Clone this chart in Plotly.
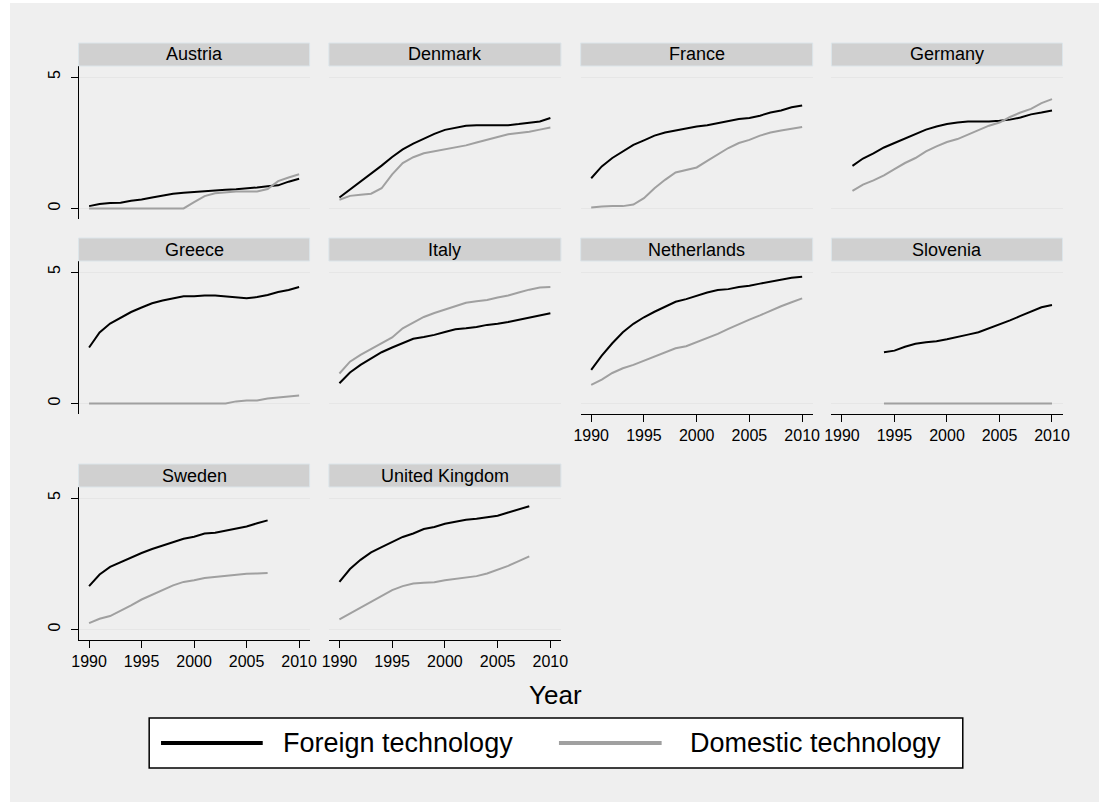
import plotly.graph_objects as go

# ---------------- data ----------------
countries = ["Austria", "Denmark", "France", "Germany", "Greece", "Italy",
             "Netherlands", "Slovenia", "Sweden", "United Kingdom"]
first_year = [1990, 1990, 1990, 1991, 1990, 1990, 1990, 1994, 1990, 1990]

austria_foreign = [0.09, 0.17, 0.21, 0.22, 0.29, 0.34, 0.42, 0.49, 0.56, 0.60, 0.63,
                   0.67, 0.70, 0.71, 0.73, 0.76, 0.80, 0.85, 0.88, 1.02, 1.13]
austria_domestic = [0, 0, 0, 0, 0, 0, 0, 0, 0, 0, 0.24,
                    0.47, 0.58, 0.62, 0.65, 0.65, 0.65, 0.74, 1.04, 1.18, 1.30]
denmark_foreign = [0.42, 0.72, 1.02, 1.32, 1.63, 1.96, 2.25, 2.47, 2.66, 2.84, 2.99,
                   3.08, 3.15, 3.17, 3.17, 3.17, 3.17, 3.21, 3.25, 3.31, 3.44]
denmark_domestic = [0.33, 0.48, 0.52, 0.56, 0.77, 1.30, 1.73, 1.95, 2.10, 2.18, 2.26,
                    2.33, 2.40, 2.51, 2.61, 2.70, 2.82, 2.87, 2.92, 3.00, 3.08]
france_foreign = [1.15, 1.60, 1.92, 2.17, 2.42, 2.59, 2.77, 2.89, 2.97, 3.05, 3.12,
                  3.17, 3.25, 3.34, 3.40, 3.44, 3.53, 3.65, 3.73, 3.85, 3.92]
france_domestic = [0.04, 0.08, 0.09, 0.09, 0.15, 0.39, 0.77, 1.09, 1.37, 1.47, 1.56,
                   1.81, 2.04, 2.30, 2.49, 2.61, 2.77, 2.89, 2.97, 3.03, 3.10]
germany_foreign = [1.62, 1.90, 2.10, 2.32, 2.49, 2.66, 2.84, 3.00, 3.12, 3.21,
                   3.27, 3.31, 3.31, 3.31, 3.34, 3.38, 3.46, 3.58, 3.65, 3.73]
germany_domestic = [0.67, 0.91, 1.07, 1.26, 1.50, 1.73, 1.92, 2.17, 2.36, 2.53,
                    2.64, 2.81, 3.00, 3.15, 3.27, 3.48, 3.65, 3.79, 4.01, 4.16]
greece_foreign = [2.13, 2.70, 3.04, 3.27, 3.48, 3.65, 3.81, 3.92, 4.00, 4.08, 4.08,
                  4.11, 4.11, 4.08, 4.04, 4.00, 4.05, 4.13, 4.24, 4.32, 4.43]
greece_domestic = [0, 0, 0, 0, 0, 0, 0, 0, 0, 0, 0,
                   0, 0, 0, 0.08, 0.11, 0.11, 0.19, 0.23, 0.27, 0.30]
italy_foreign = [0.77, 1.18, 1.47, 1.72, 1.95, 2.13, 2.29, 2.46, 2.53, 2.61, 2.72,
                 2.82, 2.86, 2.91, 2.99, 3.03, 3.10, 3.18, 3.25, 3.35, 3.43]
italy_domestic = [1.14, 1.59, 1.85, 2.06, 2.28, 2.51, 2.86, 3.08, 3.29, 3.44, 3.58,
                  3.71, 3.83, 3.89, 3.94, 4.03, 4.11, 4.22, 4.33, 4.41, 4.43]
netherlands_foreign = [1.28, 1.82, 2.29, 2.71, 3.03, 3.28, 3.49, 3.68, 3.87, 3.97, 4.10,
                       4.22, 4.32, 4.35, 4.43, 4.48, 4.56, 4.63, 4.71, 4.78, 4.82]
netherlands_domestic = [0.71, 0.91, 1.16, 1.34, 1.47, 1.63, 1.78, 1.95, 2.10, 2.18, 2.33,
                        2.48, 2.65, 2.84, 3.03, 3.19, 3.35, 3.53, 3.70, 3.85, 4.00]
slovenia_foreign = [1.95, 2.01, 2.16, 2.27, 2.33, 2.37, 2.44, 2.52, 2.62,
                    2.71, 2.85, 2.99, 3.16, 3.33, 3.49, 3.66, 3.75]
slovenia_domestic = [0, 0, 0, 0, 0, 0, 0, 0, 0, 0, 0, 0, 0, 0, 0, 0, 0]
sweden_foreign = [1.65, 2.09, 2.38, 2.56, 2.76, 2.91, 3.06, 3.19, 3.35, 3.45,
                  3.53, 3.65, 3.68, 3.76, 3.84, 3.92, 4.04, 4.15]
sweden_domestic = [0.24, 0.41, 0.51, 0.70, 0.92, 1.14, 1.33, 1.52, 1.68, 1.81,
                   1.87, 1.96, 2.00, 2.03, 2.09, 2.12, 2.13, 2.15]
uk_foreign = [1.81, 2.30, 2.65, 2.93, 3.13, 3.33, 3.52, 3.65, 3.82, 3.90,
              4.02, 4.10, 4.17, 4.21, 4.28, 4.33, 4.45, 4.57, 4.69]
uk_domestic = [0.38, 0.60, 0.82, 1.05, 1.25, 1.50, 1.65, 1.75, 1.78, 1.80,
               1.87, 1.92, 1.98, 2.03, 2.13, 2.27, 2.42, 2.60, 2.78]

foreign_series = [austria_foreign, denmark_foreign, france_foreign, germany_foreign,
                  greece_foreign, italy_foreign, netherlands_foreign, slovenia_foreign,
                  sweden_foreign, uk_foreign]
domestic_series = [austria_domestic, denmark_domestic, france_domestic, germany_domestic,
                   greece_domestic, italy_domestic, netherlands_domestic, slovenia_domestic,
                   sweden_domestic, uk_domestic]

x_ticks = [1990, 1995, 2000, 2005, 2010]
y_ticks = [0, 5]
series_names = ["Foreign technology", "Domestic technology"]

# ---------------- layout ----------------
W, H = 1109, 805
FONT = "Liberation Sans, Arial, Helvetica, sans-serif"
BLACK = "#000000"
GREY = "#a0a0a0"
BG = "#efefef"
STRIP = "#d0d0d0"
GRID = "#e6e6e6"

col_px = [(72.5, 306.5), (326, 561), (581, 816), (835, 1069)]
row_px = [(66, 219), (261, 414), (487, 640)]
STRIP_H = 23

fig = go.Figure()
layout = dict(
    width=W, height=H, margin=dict(l=0, r=0, t=0, b=0),
    paper_bgcolor="white", plot_bgcolor="white",
    showlegend=False, font=dict(family=FONT, color="black"),
)
shapes = []
annotations = []

# outer grey graph region
shapes.append(dict(type="rect", xref="paper", yref="paper", layer="below",
                   x0=3 / W, x1=1 - 3 / W, y0=3 / H, y1=1 - 3 / H,
                   fillcolor=BG, line=dict(width=0)))

bottom_axis = {"Netherlands", "Slovenia", "Sweden", "United Kingdom"}

for k, name in enumerate(countries):
    r, c = divmod(k, 4)
    idx = k + 1
    xa = "x" if idx == 1 else f"x{idx}"
    ya = "y" if idx == 1 else f"y{idx}"
    xs, xe = col_px[c]
    ys, ye = row_px[r]
    years = list(range(first_year[k], first_year[k] + len(foreign_series[k])))

    fig.add_trace(go.Scatter(x=years, y=foreign_series[k], mode="lines",
                             name=series_names[0], xaxis=xa, yaxis=ya,
                             line=dict(color=BLACK, width=2)))
    fig.add_trace(go.Scatter(x=years, y=domestic_series[k], mode="lines",
                             name=series_names[1], xaxis=xa, yaxis=ya,
                             line=dict(color=GREY, width=2)))

    has_x = name in bottom_axis
    has_y = c == 0
    layout[f"xaxis{'' if idx == 1 else idx}"] = dict(
        domain=[xs / W, xe / W], range=[1989, 2011], anchor=ya,
        tickvals=x_ticks, showticklabels=has_x, ticks="outside" if has_x else "",
        ticklen=7, tickcolor="black", showline=has_x, linecolor="black", linewidth=1,
        showgrid=False, zeroline=False, fixedrange=True,
        tickfont=dict(size=16, family=FONT, color="black"))
    layout[f"yaxis{'' if idx == 1 else idx}"] = dict(
        domain=[1 - ye / H, 1 - ys / H], range=[-0.4, 5.42], anchor=xa,
        tickvals=y_ticks, showticklabels=has_y, ticks="outside" if has_y else "",
        ticklen=7, tickcolor="black", tickangle=-90, ticklabelstandoff=4,
        showline=has_y, linecolor="black", linewidth=1,
        showgrid=True, gridcolor=GRID, gridwidth=1, zeroline=False, fixedrange=True,
        tickfont=dict(size=16, family=FONT, color="black"))

    # strip header
    hfrac = STRIP_H / (ye - ys)
    shapes.append(dict(type="rect", xref=f"{xa} domain", yref=f"{ya} domain",
                       x0=0, x1=1, y0=1, y1=1 + hfrac, fillcolor=STRIP,
                       line=dict(color="#dce5ea", width=1)))
    annotations.append(dict(xref=f"{xa} domain", yref=f"{ya} domain",
                            x=0.5, y=1 + hfrac / 2, text=name, showarrow=False,
                            xanchor="center", yanchor="middle",
                            font=dict(size=18, family=FONT, color="black")))

# x-axis title
annotations.append(dict(xref="paper", yref="paper", x=556 / W, y=1 - 695 / H,
                        text="Year", showarrow=False, xanchor="center", yanchor="middle",
                        font=dict(size=26, family=FONT, color="black")))

# legend (drawn box)
shapes.append(dict(type="rect", xref="paper", yref="paper",
                   x0=144 / W, x1=968 / W, y0=1 - 768 / H, y1=1 - 718 / H,
                   fillcolor="white", line=dict(color="black", width=1.5)))
leg_y = 1 - 743 / H
shapes.append(dict(type="line", xref="paper", yref="paper",
                   x0=156 / W, x1=259 / W, y0=leg_y, y1=leg_y,
                   line=dict(color=BLACK, width=4)))
shapes.append(dict(type="line", xref="paper", yref="paper",
                   x0=559 / W, x1=663 / W, y0=leg_y, y1=leg_y,
                   line=dict(color=GREY, width=4)))
annotations.append(dict(xref="paper", yref="paper", x=277 / W, y=leg_y,
                        text=series_names[0], showarrow=False, xanchor="left",
                        yanchor="middle", font=dict(size=27, family=FONT, color="black")))
annotations.append(dict(xref="paper", yref="paper", x=690 / W, y=leg_y,
                        text=series_names[1], showarrow=False, xanchor="left",
                        yanchor="middle", font=dict(size=27, family=FONT, color="black")))

layout["shapes"] = shapes
layout["annotations"] = annotations
fig.update_layout(**layout)

fig.write_html("out.html", config={"displayModeBar": False},
               post_script="document.body.style.margin='0';document.body.style.overflow='hidden';")
